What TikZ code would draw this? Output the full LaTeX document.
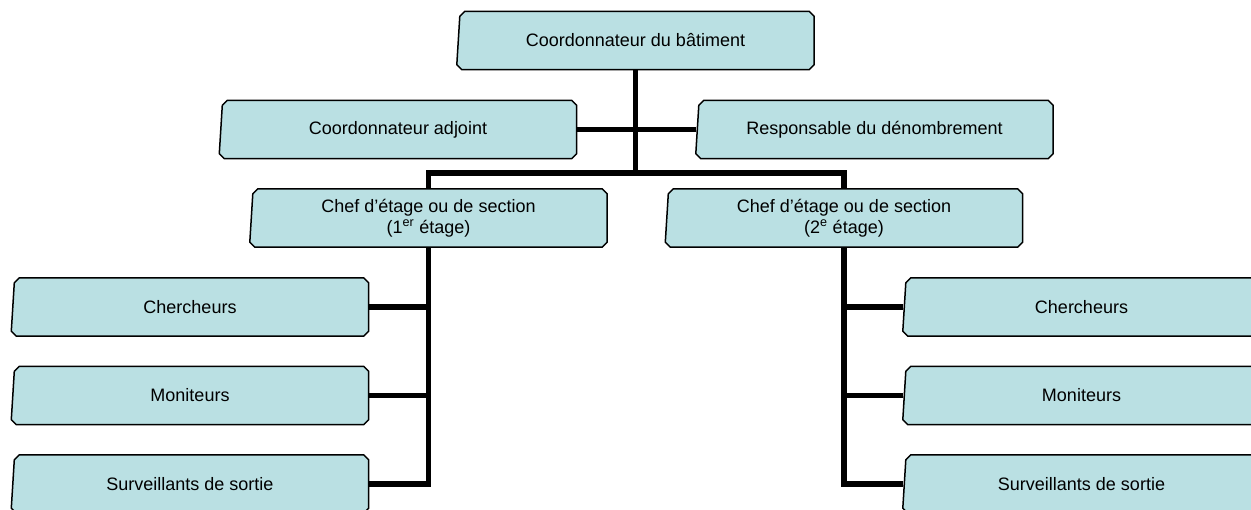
\documentclass[tikz,border=0pt]{standalone}
\usepackage{fontspec}
\setmainfont{Liberation Sans}
\usetikzlibrary{backgrounds}
\definecolor{boxfill}{RGB}{186,224,227}
\tikzset{
  orgbox/.style={minimum width=357pt, minimum height=58pt, inner sep=0pt, align=center,
                 font=\fontsize{18}{20.5}\selectfont},
  wire/.style={line width=5.5pt, line join=miter, draw=black},
  outline/.style={draw=black, line width=1.5pt, fill=boxfill, line join=round}
}
\newcommand\orgoutline[1]{%
  \path[outline] ([xshift=8pt]#1.north west) -- ([xshift=-5pt]#1.north east)
    -- ([yshift=-5pt]#1.north east) -- ([yshift=5pt]#1.south east)
    -- ([xshift=-5pt]#1.south east) -- ([xshift=5pt]#1.south west)
    -- ([yshift=5pt]#1.south west) -- ([xshift=3pt,yshift=-5pt]#1.north west) -- cycle;}
\begin{document}
\begin{tikzpicture}[x=1pt,y=-1pt]
\useasboundingbox (0,0) rectangle (1251,510);
\node[orgbox] (top) at (635.5,40.5) {Coordonnateur du bâtiment};
\node[orgbox] (adj) at (398,129.5) {Coordonnateur adjoint};
\node[orgbox] (resp) at (874.5,129.5) {Responsable du dénombrement};
\node[orgbox] (chefA) at (428.5,218) {Chef d’étage ou de section\\(1\textsuperscript{er} étage)};
\node[orgbox] (chefB) at (844,218) {Chef d’étage ou de section\\(2\textsuperscript{e} étage)};
\node[orgbox] (lch) at (190,307) {Chercheurs};
\node[orgbox] (lmo) at (190,395.5) {Moniteurs};
\node[orgbox] (lsu) at (190,484) {Surveillants de sortie};
\node[orgbox] (rch) at (1081.5,307) {Chercheurs};
\node[orgbox] (rmo) at (1081.5,395.5) {Moniteurs};
\node[orgbox] (rsu) at (1081.5,484) {Surveillants de sortie};
\coordinate (bus) at (636,173);
\begin{scope}[on background layer]
  \foreach \n in {top,adj,resp,chefA,chefB,lch,lmo,lsu,rch,rmo,rsu}{\orgoutline{\n}}
\end{scope}
\draw[wire] (top.south) -- (top.south |- bus);
\draw[wire] (adj.east) -- (resp.west);
\draw[wire] (chefA.north) -- (chefA.north |- bus) -- (chefB.north |- bus) -- (chefB.north);
\draw[wire] (chefA.south) -- (chefA.south |- lsu.east) -- (lsu.east);
\draw[wire] (lch.east) -- (lch.east -| chefA.south);
\draw[wire] (lmo.east) -- (lmo.east -| chefA.south);
\draw[wire] (chefB.south) -- (chefB.south |- rsu.west) -- (rsu.west);
\draw[wire] (rch.west) -- (rch.west -| chefB.south);
\draw[wire] (rmo.west) -- (rmo.west -| chefB.south);
\end{tikzpicture}
\end{document}
